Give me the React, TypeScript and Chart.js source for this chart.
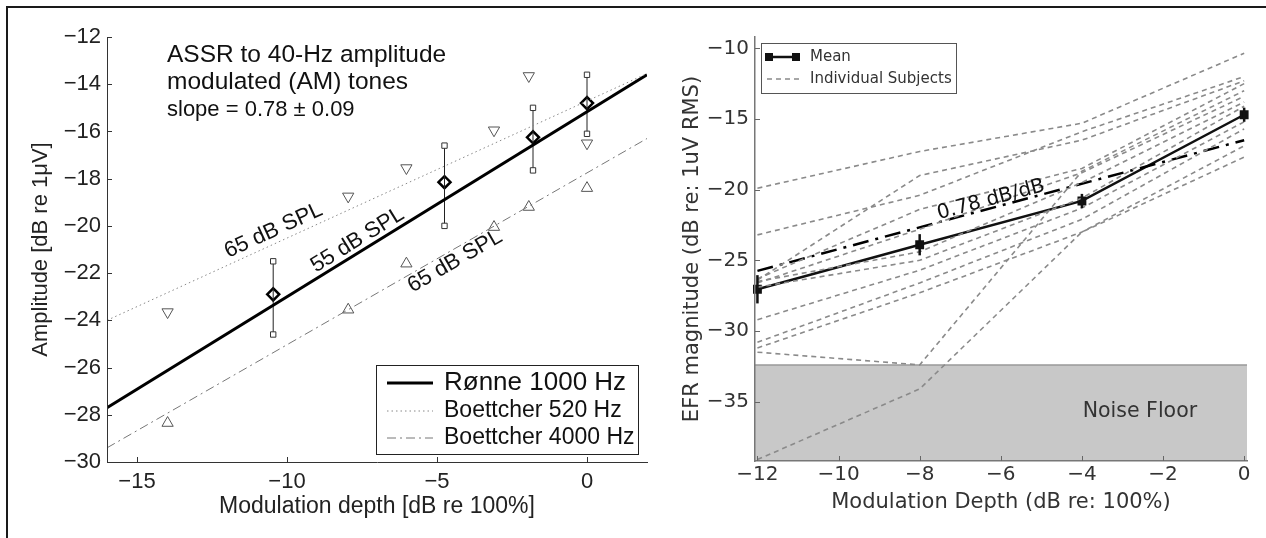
import React, { useEffect, useRef } from 'react';
import { Chart, registerables } from 'chart.js';

Chart.register(...registerables);

// ================= Left panel: ASSR to 40-Hz AM tones =================
const leftXTicks = [-15, -10, -5, 0];
const leftYTicks = [-30, -28, -26, -24, -22, -20, -18, -16, -14, -12];
const ronneDepth = [-10.46, -4.75, -1.8, 0];
const ronneMean = [-22.9, -18.15, -16.25, -14.8];
const ronneHigh = [-21.5, -16.6, -15.0, -13.6];
const ronneLow = [-24.6, -20.0, -17.65, -16.1];
const boettcherDepth = [-13.98, -7.96, -6.02, -3.1, -1.94, 0];
const boettcher520 = [-23.65, -18.75, -17.55, -15.95, -13.65, -16.5];
const boettcher4000 = [-28.35, -23.55, -21.6, -20.05, -19.2, -18.4];
const leftFitDepth = [-16, 2];
const ronneFit = [-27.7, -13.6];
const boettcher520Fit = [-24.0, -13.55];
const boettcher4000Fit = [-29.4, -16.3];

// ================= Right panel: EFR magnitude =================
const rightXTicks = [-12, -10, -8, -6, -4, -2, 0];
const rightYTicks = [-35, -30, -25, -20, -15, -10];
const depthLevels = [-12, -8, -4, 0];
const meanEFR = [-27.05, -23.9, -20.8, -14.7];
const meanErr = [1.0, 0.75, 0.5, 0.5];
const rightFitDepth = [-12, 0];
const efrFit = [-25.75, -16.5];
const noiseFloor = -32.4;
const subject1 = [-19.9, -17.3, -15.3, -10.35];
const subject2 = [-23.2, -20.4, -15.9, -12.0];
const subject3 = [-26.4, -19.0, -16.5, -12.3];
const subject4 = [-26.3, -21.4, -18.5, -12.5];
const subject5 = [-26.6, -22.8, -18.8, -13.4];
const subject6 = [-26.5, -24.4, -19.5, -13.8];
const subject7 = [-26.9, -25.0, -20.6, -14.1];
const subject8 = [-29.2, -25.7, -21.3, -15.2];
const subject9 = [-30.8, -26.6, -22.1, -15.7];
const subject10 = [-31.2, -27.3, -23.0, -16.9];
const subject11 = [-31.5, -32.4, -18.7, -13.0];
const subject12 = [-39.1, -34.1, -23.0, -17.7];
const subjects = [subject1, subject2, subject3, subject4, subject5, subject6,
  subject7, subject8, subject9, subject10, subject11, subject12];

// annotation placement (data coordinates of text centres)
const leftLineLabels = [
  { text: '65 dB SPL', x: -10.45, y: -20.2, along: boettcher520Fit },
  { text: '55 dB SPL', x: -7.65, y: -20.6, along: ronneFit },
  { text: '65 dB SPL', x: -4.4, y: -21.5, along: boettcher4000Fit },
];
const fitLabel = { text: '0.78 dB/dB', x: -6.24, y: -20.73 };
const noiseLabel = { text: 'Noise Floor', x: -2.57, y: -35.72 };

const FONT_L = '"Liberation Sans", Arial, Helvetica, sans-serif';
const FONT_R = '"DejaVu Sans", sans-serif';

const fmt = (v: number) => (v < 0 ? '\u2212' + Math.abs(v) : String(v));
const pts = (xs: number[], ys: number[]) => xs.map((x, i) => ({ x, y: ys[i] }));

const leftDecor = {
  id: 'leftDecor',
  afterDraw(chart: any) {
    const { ctx, chartArea: a, scales } = chart;
    const x = scales.x, y = scales.y;
    ctx.save();
    // inward ticks
    ctx.strokeStyle = '#333';
    ctx.lineWidth = 1;
    x.ticks.forEach((t: any) => {
      const px = Math.round(x.getPixelForValue(t.value)) + 0.5;
      ctx.beginPath(); ctx.moveTo(px, a.bottom); ctx.lineTo(px, a.bottom - 5); ctx.stroke();
    });
    y.ticks.forEach((t: any) => {
      const py = Math.round(y.getPixelForValue(t.value)) + 0.5;
      ctx.beginPath(); ctx.moveTo(a.left, py); ctx.lineTo(a.left + 5, py); ctx.stroke();
    });
    // labels along lines
    leftLineLabels.forEach((l) => {
      const x1 = x.getPixelForValue(leftFitDepth[0]);
      const x2 = x.getPixelForValue(leftFitDepth[1]);
      const y1 = y.getPixelForValue(l.along[0]);
      const y2 = y.getPixelForValue(l.along[1]);
      const ang = Math.atan2(y2 - y1, x2 - x1);
      ctx.save();
      ctx.translate(x.getPixelForValue(l.x), y.getPixelForValue(l.y));
      ctx.rotate(ang);
      ctx.font = `22px ${FONT_L}`;
      ctx.fillStyle = '#111';
      ctx.textAlign = 'center';
      ctx.textBaseline = 'middle';
      ctx.fillText(l.text, 0, 0);
      ctx.restore();
    });
    // title block
    ctx.fillStyle = '#111';
    ctx.textAlign = 'left';
    ctx.textBaseline = 'middle';
    ctx.font = `24.5px ${FONT_L}`;
    ctx.fillText('ASSR to 40-Hz amplitude', a.left + 60, a.top + 18);
    ctx.fillText('modulated (AM) tones', a.left + 60, a.top + 45);
    ctx.font = `22px ${FONT_L}`;
    ctx.fillText('slope = 0.78 \u00b1 0.09', a.left + 60, a.top + 73);
    // legend
    const bw = 262, bh = 89;
    const bx = a.right - 9 - bw, by = a.bottom - 8 - bh;
    ctx.fillStyle = '#fff';
    ctx.fillRect(bx, by, bw, bh);
    ctx.strokeStyle = '#222';
    ctx.lineWidth = 1;
    ctx.strokeRect(Math.round(bx) + 0.5, Math.round(by) + 0.5, bw, bh);
    const rows = [
      { t: 'R\u00f8nne 1000 Hz', c: '#000', w: 3, d: [], f: 26, dy: 18 },
      { t: 'Boettcher 520 Hz', c: '#888', w: 1, d: [1.5, 3], f: 23, dy: 46 },
      { t: 'Boettcher 4000 Hz', c: '#777', w: 1, d: [9, 4, 2, 4], f: 23, dy: 73 },
    ];
    rows.forEach((r) => {
      ctx.strokeStyle = r.c;
      ctx.lineWidth = r.w;
      ctx.setLineDash(r.d);
      ctx.beginPath();
      ctx.moveTo(bx + 11, by + r.dy);
      ctx.lineTo(bx + 57, by + r.dy);
      ctx.stroke();
      ctx.setLineDash([]);
      ctx.fillStyle = '#111';
      ctx.font = `${r.f}px ${FONT_L}`;
      ctx.textAlign = 'left';
      ctx.textBaseline = 'middle';
      ctx.fillText(r.t, bx + 68, by + r.dy);
    });
    ctx.restore();
  },
};

const rightDecor = {
  id: 'rightDecor',
  beforeDatasetsDraw(chart: any) {
    const { ctx, chartArea: a, scales } = chart;
    const py = scales.y.getPixelForValue(noiseFloor);
    ctx.save();
    ctx.fillStyle = '#c8c8c8';
    ctx.fillRect(a.left, py, a.right - a.left, a.bottom - py);
    ctx.strokeStyle = '#9a9a9a';
    ctx.lineWidth = 1.5;
    ctx.beginPath(); ctx.moveTo(a.left, py); ctx.lineTo(a.right, py); ctx.stroke();
    ctx.fillStyle = '#333';
    ctx.font = `20.5px ${FONT_R}`;
    ctx.textAlign = 'center';
    ctx.textBaseline = 'middle';
    ctx.fillText(noiseLabel.text, scales.x.getPixelForValue(noiseLabel.x), scales.y.getPixelForValue(noiseLabel.y));
    ctx.restore();
  },
  afterDatasetsDraw(chart: any) {
    const { ctx, chartArea: a, scales } = chart;
    const x = scales.x, y = scales.y;
    ctx.save();
    // error bars of the mean
    ctx.strokeStyle = '#111';
    ctx.lineWidth = 2.5;
    depthLevels.forEach((d, i) => {
      const px = x.getPixelForValue(d);
      ctx.beginPath();
      ctx.moveTo(px, y.getPixelForValue(meanEFR[i] - meanErr[i]));
      ctx.lineTo(px, y.getPixelForValue(meanEFR[i] + meanErr[i]));
      ctx.stroke();
    });
    // slope label
    const x1 = x.getPixelForValue(rightFitDepth[0]), x2 = x.getPixelForValue(rightFitDepth[1]);
    const y1 = y.getPixelForValue(efrFit[0]), y2 = y.getPixelForValue(efrFit[1]);
    const ang = Math.atan2(y2 - y1, x2 - x1);
    ctx.save();
    ctx.translate(x.getPixelForValue(fitLabel.x), y.getPixelForValue(fitLabel.y));
    ctx.rotate(ang);
    ctx.fillStyle = '#111';
    ctx.font = `20px ${FONT_R}`;
    ctx.textAlign = 'center';
    ctx.textBaseline = 'middle';
    ctx.fillText(fitLabel.text, 0, 0);
    ctx.restore();
    // legend
    const bx = a.left + 6, by = a.top + 6, bw = 195, bh = 50;
    ctx.fillStyle = '#fff';
    ctx.fillRect(bx, by, bw, bh);
    ctx.strokeStyle = '#555';
    ctx.lineWidth = 1;
    ctx.strokeRect(Math.round(bx) + 0.5, Math.round(by) + 0.5, bw, bh);
    // mean sample
    ctx.strokeStyle = '#111';
    ctx.lineWidth = 2.5;
    ctx.beginPath(); ctx.moveTo(bx + 8, by + 14); ctx.lineTo(bx + 35, by + 14); ctx.stroke();
    ctx.fillStyle = '#111';
    ctx.fillRect(bx + 4, by + 10, 8, 8);
    ctx.fillRect(bx + 31, by + 10, 8, 8);
    // subjects sample
    ctx.strokeStyle = '#8a8a8a';
    ctx.lineWidth = 1.6;
    ctx.setLineDash([5, 4]);
    ctx.beginPath(); ctx.moveTo(bx + 6, by + 36); ctx.lineTo(bx + 38, by + 36); ctx.stroke();
    ctx.setLineDash([]);
    ctx.fillStyle = '#333';
    ctx.font = `15px ${FONT_R}`;
    ctx.textAlign = 'left';
    ctx.textBaseline = 'middle';
    ctx.fillText('Mean', bx + 49, by + 14);
    ctx.fillText('Individual Subjects', bx + 49, by + 36);
    ctx.restore();
  },
  afterDraw(chart: any) {
    const { ctx, chartArea: a, scales } = chart;
    const x = scales.x, y = scales.y;
    ctx.save();
    ctx.strokeStyle = '#666';
    ctx.lineWidth = 1;
    x.ticks.forEach((t: any) => {
      const px = Math.round(x.getPixelForValue(t.value)) + 0.5;
      ctx.beginPath(); ctx.moveTo(px, a.bottom); ctx.lineTo(px, a.bottom - 5); ctx.stroke();
    });
    y.ticks.forEach((t: any) => {
      const py = Math.round(y.getPixelForValue(t.value)) + 0.5;
      ctx.beginPath(); ctx.moveTo(a.left, py); ctx.lineTo(a.left + 5, py); ctx.stroke();
    });
    ctx.restore();
  },
};

function LeftPanel() {
  const ref = useRef<HTMLCanvasElement>(null);
  useEffect(() => {
    if (!ref.current) return;
    const errorSets = ronneDepth.map((d, i) => ({
      label: 'err' + i,
      data: [{ x: d, y: ronneLow[i] }, { x: d, y: ronneHigh[i] }],
      showLine: true,
      borderColor: '#222',
      borderWidth: 1,
      pointStyle: 'rect',
      pointRadius: 3.8,
      pointBackgroundColor: '#fff',
      pointBorderColor: '#333',
      pointBorderWidth: 1,
    }));
    const chart = new Chart(ref.current, {
      type: 'scatter',
      data: {
        datasets: [
          { label: 'Boettcher 520 Hz', data: pts(leftFitDepth, boettcher520Fit), showLine: true, borderColor: '#888', borderWidth: 1, borderDash: [1.5, 3], pointRadius: 0 },
          { label: 'Boettcher 4000 Hz', data: pts(leftFitDepth, boettcher4000Fit), showLine: true, borderColor: '#777', borderWidth: 1, borderDash: [9, 4, 2, 4], pointRadius: 0 },
          { label: 'Rønne 1000 Hz', data: pts(leftFitDepth, ronneFit), showLine: true, borderColor: '#000', borderWidth: 3, pointRadius: 0 },
          ...errorSets,
          { label: '520 pts', data: pts(boettcherDepth, boettcher520), pointStyle: 'triangle', pointRotation: 180, pointRadius: 6.5, pointBorderColor: '#555', pointBackgroundColor: 'rgba(0,0,0,0)', pointBorderWidth: 1 },
          { label: '4000 pts', data: pts(boettcherDepth, boettcher4000), pointStyle: 'triangle', pointRotation: 0, pointRadius: 6.5, pointBorderColor: '#555', pointBackgroundColor: 'rgba(0,0,0,0)', pointBorderWidth: 1 },
          { label: 'Rønne mean', data: pts(ronneDepth, ronneMean), pointStyle: 'rectRot', pointRadius: 6, pointBorderColor: '#000', pointBackgroundColor: '#fff', pointBorderWidth: 2.5 },
        ] as any,
      },
      options: {
        responsive: false,
        animation: false,
        layout: { padding: { left: 0, right: 11, top: 27, bottom: 0 } },
        plugins: { legend: { display: false }, tooltip: { enabled: false } },
        scales: {
          x: {
            type: 'linear', min: -16, max: 2,
            afterBuildTicks: (s: any) => { s.ticks = leftXTicks.map((v) => ({ value: v })); },
            afterFit: (s: any) => { s.height = 76; },
            grid: { display: false, drawTicks: false },
            border: { display: true, color: '#333', width: 1, z: 1 },
            ticks: { padding: 6.3, color: '#222', font: { family: FONT_L, size: 22 }, callback: (v: any) => fmt(v) },
            title: { display: true, text: 'Modulation depth [dB re 100%]', color: '#222', font: { family: FONT_L, size: 23 }, padding: { top: 0, bottom: 18 } },
          },
          y: {
            type: 'linear', min: -30, max: -12,
            afterBuildTicks: (s: any) => { s.ticks = leftYTicks.map((v) => ({ value: v })); },
            afterFit: (s: any) => { s.width = 97; },
            grid: { display: false, drawTicks: false },
            border: { display: true, color: '#333', width: 1, z: 1 },
            ticks: { padding: 6, color: '#222', font: { family: FONT_L, size: 22 }, callback: (v: any) => fmt(v) },
            title: { display: true, text: 'Amplitude [dB re 1\u03bcV]', color: '#222', font: { family: FONT_L, size: 22 }, padding: { top: 17.8, bottom: 0 } },
          },
        },
      } as any,
      plugins: [leftDecor],
    });
    return () => chart.destroy();
  }, []);
  return <canvas ref={ref} width={648} height={528} style={{ position: 'absolute', left: 10, top: 10, width: 648, height: 528 }} />;
}

function RightPanel() {
  const ref = useRef<HTMLCanvasElement>(null);
  useEffect(() => {
    if (!ref.current) return;
    const subjectSets = subjects.map((s, i) => ({
      label: 'Subject ' + (i + 1),
      data: pts(depthLevels, s),
      showLine: true,
      borderColor: '#8a8a8a',
      borderWidth: 1.6,
      borderDash: [5, 4],
      pointRadius: 0,
    }));
    const chart = new Chart(ref.current, {
      type: 'scatter',
      data: {
        datasets: [
          ...subjectSets,
          { label: 'Fit', data: pts(rightFitDepth, efrFit), showLine: true, borderColor: '#000', borderWidth: 2.5, borderDash: [16, 7, 3, 7], pointRadius: 0 },
          { label: 'Mean', data: pts(depthLevels, meanEFR), showLine: true, borderColor: '#111', borderWidth: 2.5, pointStyle: 'rect', pointRadius: 4.5, pointBackgroundColor: '#111', pointBorderColor: '#111', clip: false },
        ] as any,
      },
      options: {
        responsive: false,
        animation: false,
        layout: { padding: { left: 0, right: 19, top: 27, bottom: 0 } },
        plugins: { legend: { display: false }, tooltip: { enabled: false } },
        scales: {
          x: {
            type: 'linear', min: -12.06, max: 0.07,
            afterBuildTicks: (s: any) => { s.ticks = rightXTicks.map((v) => ({ value: v })); },
            afterFit: (s: any) => { s.height = 77; },
            grid: { display: false, drawTicks: false },
            border: { display: true, color: '#777', width: 1.5, z: 1 },
            ticks: { padding: 2, color: '#333', font: { family: FONT_R, size: 20 }, callback: (v: any) => fmt(v) },
            title: { display: true, text: 'Modulation Depth (dB re: 100%)', color: '#333', font: { family: FONT_R, size: 21 }, padding: { top: 0, bottom: 22.4 } },
          },
          y: {
            type: 'linear', min: -39.2, max: -9.2,
            afterBuildTicks: (s: any) => { s.ticks = rightYTicks.map((v) => ({ value: v })); },
            afterFit: (s: any) => { s.width = 95; },
            grid: { display: false, drawTicks: false },
            border: { display: true, color: '#777', width: 1.5, z: 1 },
            ticks: { padding: 6, color: '#333', font: { family: FONT_R, size: 20 }, callback: (v: any) => fmt(v) },
            title: { display: true, text: 'EFR magnitude (dB re: 1uV RMS)', color: '#333', font: { family: FONT_R, size: 21 }, padding: { top: 20.4, bottom: 0 } },
          },
        },
      } as any,
      plugins: [rightDecor],
    });
    return () => chart.destroy();
  }, []);
  return <canvas ref={ref} width={606} height={528} style={{ position: 'absolute', left: 660, top: 10, width: 606, height: 528 }} />;
}

export default function App() {
  return (
    <div style={{ position: 'fixed', left: 0, top: 0, width: 1266, height: 538, background: '#fff', overflow: 'hidden' }}>
      <div style={{ position: 'absolute', left: 6, top: 6, width: 1270, height: 540, borderTop: '2px solid #1a1a1a', borderLeft: '2px solid #1a1a1a' }} />
      <LeftPanel />
      <RightPanel />
    </div>
  );
}
